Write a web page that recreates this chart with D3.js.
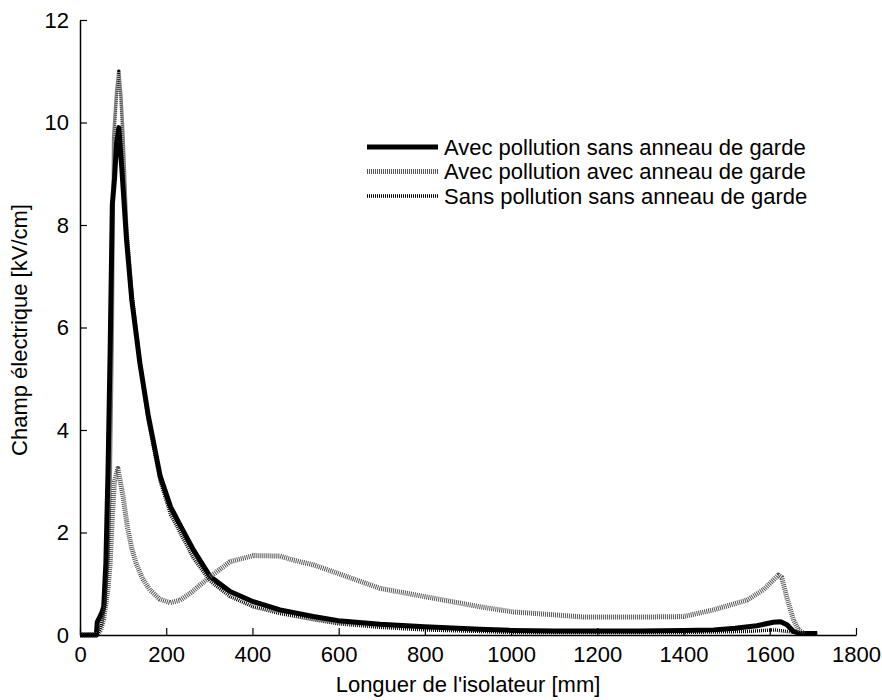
<!DOCTYPE html>
<html>
<head>
<meta charset="utf-8">
<script src="https://cdn.jsdelivr.net/npm/d3@7"></script>
<style>
  body { margin: 0; background: #fff; }
  svg { display: block; }
</style>
</head>
<body>
<svg id="chart" width="882" height="700"></svg>
<script>
// readings from the figure (x in mm, y in kV/cm)
const xSansAnneau = [0, 38, 40, 50, 55, 60, 65, 70, 75, 80, 85, 90, 97, 108, 120, 139, 158, 186, 210, 232, 263, 302, 348, 402, 464, 541, 599, 696, 799, 928, 1000, 1100, 1200, 1300, 1400, 1470, 1520, 1570, 1608, 1625, 1640, 1655, 1670, 1710]
const ySansAnneau = [0, 0, 0.25, 0.42, 0.55, 1.4, 3.2, 5.6, 8.4, 8.9, 9.6, 9.9, 9.1, 7.7, 6.55, 5.3, 4.3, 3.1, 2.5, 2.15, 1.66, 1.14, 0.85, 0.65, 0.49, 0.36, 0.28, 0.21, 0.16, 0.11, 0.09, 0.08, 0.08, 0.08, 0.09, 0.1, 0.13, 0.18, 0.25, 0.26, 0.2, 0.07, 0.03, 0.03]

const xAvecAnneau = [0, 40, 48, 55, 65, 70, 75, 80, 88, 100, 110, 120, 130, 145, 162, 185, 209, 232, 255, 302, 348, 402, 464, 495, 541, 599, 696, 799, 928, 1005, 1106, 1168, 1300, 1400, 1469, 1547, 1585, 1620, 1628, 1639, 1655, 1667, 1680]
const yAvecAnneau = [0, 0, 0.1, 0.3, 0.9, 1.4, 2.3, 3.0, 3.25, 2.7, 2.1, 1.7, 1.4, 1.1, 0.88, 0.7, 0.63, 0.68, 0.81, 1.14, 1.43, 1.55, 1.54, 1.46, 1.37, 1.2, 0.91, 0.75, 0.55, 0.45, 0.39, 0.35, 0.35, 0.36, 0.49, 0.68, 0.88, 1.17, 1.12, 0.75, 0.29, 0.1, 0.03]

const xSansPollution = [0, 40, 50, 58, 65, 70, 75, 78, 85, 90, 95, 100, 108, 120, 139, 158, 186, 210, 232, 263, 302, 348, 402, 464, 541, 599, 696, 799, 928, 1000, 1200, 1400, 1550, 1610, 1650, 1670, 1710]
const ySansPollution = [0, 0, 0.2, 0.6, 1.5, 3.0, 6.0, 9.7, 10.6, 11.0, 10.5, 9.7, 8.0, 6.7, 5.3, 4.2, 3.0, 2.35, 2.0, 1.5, 1.05, 0.75, 0.55, 0.42, 0.3, 0.22, 0.15, 0.1, 0.07, 0.05, 0.05, 0.05, 0.07, 0.1, 0.06, 0.03, 0.03]

const legendLabels = ["Avec pollution sans anneau de garde", "Avec pollution avec anneau de garde", "Sans pollution sans anneau de garde"]
const xTicks = [0, 200, 400, 600, 800, 1000, 1200, 1400, 1600, 1800]
const yTicks = [0, 2, 4, 6, 8, 10, 12]

const series = [
  { name: legendLabels[0], xs: xSansAnneau, ys: ySansAnneau, stroke: "#000", width: 5, dash: null },
  { name: legendLabels[1], xs: xAvecAnneau, ys: yAvecAnneau, stroke: "#555", width: 5, dash: "1,1" },
  { name: legendLabels[2], xs: xSansPollution, ys: ySansPollution, stroke: "#000", width: 3.5, dash: "1,1" }
]

const fontSize = 22

const svg = d3.select("#chart")
  .attr("font-family", "'Liberation Sans', Arial, sans-serif")

const x = d3.scaleLinear().domain([0, 1800]).range([80, 856])
const y = d3.scaleLinear().domain([0, 12]).range([635, 20])

const line = d3.line()
  .x(d => x(d[0]))
  .y(d => y(d[1]))

// curves
svg.append("g")
  .attr("fill", "none")
  .selectAll("path")
  .data(series)
  .join("path")
  .attr("d", s => line(s.xs.map((v, i) => [v, s.ys[i]])))
  .attr("stroke", s => s.stroke)
  .attr("stroke-width", s => s.width)
  .attr("stroke-dasharray", s => s.dash)
  .attr("stroke-linejoin", "round")

// axes, ticks inward
const xAxis = svg.append("g")
  .attr("transform", `translate(0,${y(0)})`)
  .call(d3.axisBottom(x).tickValues(xTicks).tickFormat(d3.format("d"))
    .tickSizeInner(-7).tickSizeOuter(0).tickPadding(11))
const yAxis = svg.append("g")
  .attr("transform", `translate(${x(0)},0)`)
  .call(d3.axisLeft(y).tickValues(yTicks).tickFormat(d3.format("d"))
    .tickSizeInner(-7).tickSizeOuter(0).tickPadding(11))

for (const g of [xAxis, yAxis]) {
  g.select(".domain").attr("stroke", "#000").attr("stroke-width", 1.5)
  g.selectAll(".tick line").attr("stroke", "#000").attr("stroke-width", 1.2)
  g.selectAll(".tick text").attr("font-size", fontSize).attr("fill", "#000")
    .attr("font-family", "'Liberation Sans', Arial, sans-serif")
}

// axis titles
svg.append("text")
  .attr("x", 468).attr("y", 692)
  .attr("text-anchor", "middle")
  .attr("font-size", fontSize)
  .text("Longuer de l'isolateur [mm]")

svg.append("text")
  .attr("transform", "translate(27,330) rotate(-90)")
  .attr("text-anchor", "middle")
  .attr("font-size", fontSize)
  .text("Champ électrique [kV/cm]")

// legend
const legend = svg.append("g")
  .selectAll("g")
  .data(series)
  .join("g")
  .attr("transform", (d, i) => `translate(367,${147 + i * 24.5})`)

legend.append("line")
  .attr("x1", 0).attr("x2", 71)
  .attr("stroke", d => d.stroke)
  .attr("stroke-width", d => d.width)
  .attr("stroke-dasharray", d => d.dash)

legend.append("text")
  .attr("x", 77).attr("dy", "0.35em")
  .attr("font-size", fontSize)
  .text(d => d.name)
</script>
</body>
</html>
